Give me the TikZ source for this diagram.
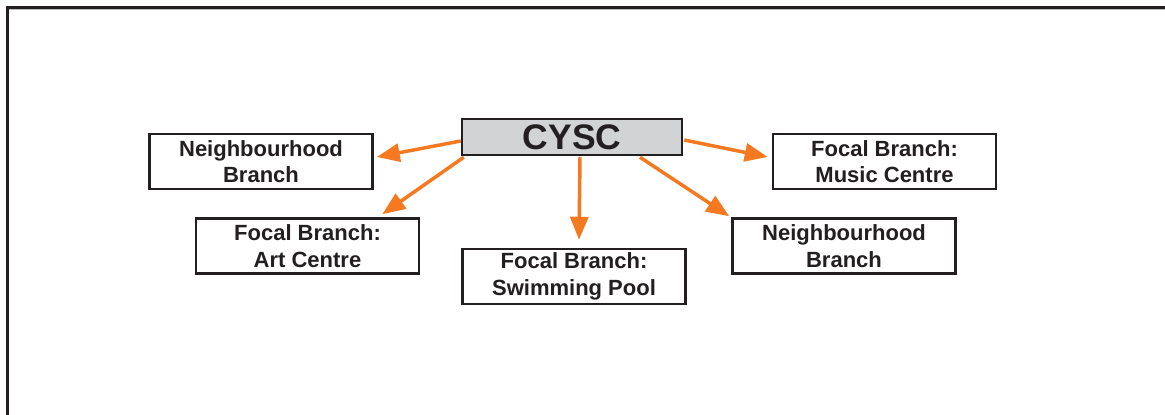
\documentclass[tikz,border=0pt]{standalone}
\usepackage{fontspec}
\setmainfont{Liberation Sans}
\usetikzlibrary{arrows.meta,calc}
\definecolor{ink}{RGB}{35,31,32}
\definecolor{arrowor}{RGB}{244,121,32}
\definecolor{boxgray}{RGB}{209,211,212}
\definecolor{framegray}{RGB}{190,190,190}
\tikzset{
  branchbox/.style={draw=ink, line width=2.5pt, fill=white, minimum width=223pt, minimum height=55pt,
    inner sep=0pt, align=center, text=ink, font=\fontsize{22}{26.5}\selectfont\bfseries},
  headbox/.style={draw=ink, line width=2.5pt, fill=boxgray, minimum width=220pt, minimum height=36pt,
    inner sep=0pt, text=ink, font=\fontsize{35.5}{40}\selectfont\bfseries},
  conn/.style={draw=arrowor, line width=3.5pt, -{Triangle[length=23pt,width=18pt]}},
  framestyle/.style={draw=ink, line width=2.7pt}
}
\begin{document}
\begin{tikzpicture}[x=1pt,y=-1pt]
\useasboundingbox (0,0) rectangle (1165,415);
\begin{scope}
\clip (0,0) rectangle (1165,415);
\draw[framegray, line width=1.3pt] (8.6,9.4) -- (1170,9.4);
\draw[framestyle] (7.3,430) -- (7.3,7.3) -- (1170,7.3);
\end{scope}
\node[headbox] (cysc) at (572,137) {CYSC};
\node[branchbox] (nl) at (261,161.5) {Neighbourhood\\Branch};
\node[branchbox] (art) at (307.5,246) {Focal Branch:\\Art Centre};
\node[branchbox] (swim) at (574,276.5) {Focal Branch:\\Swimming Pool};
\node[branchbox] (music) at (884.5,161.5) {Focal Branch:\\Music Centre};
\node[branchbox] (nr) at (844,246) {Neighbourhood\\Branch};
\draw[conn] ($(cysc.west)+(0,4)$) -- ($(nl.east)+(3,-4.5)$);
\draw[conn] ($(cysc.south west)+(3,1)$) -- ($(art.north east)+(-38,-3)$);
\draw[conn] ($(cysc.south)+(8,1)$) -- ($(swim.north)+(5,-8)$);
\draw[conn] ($(cysc.south)+(68,1)$) -- ($(nr.north west)+(-2,-1)$);
\draw[conn] ($(cysc.east)+(1,3)$) -- ($(music.west)+(-4,-4.5)$);
\end{tikzpicture}
\end{document}
